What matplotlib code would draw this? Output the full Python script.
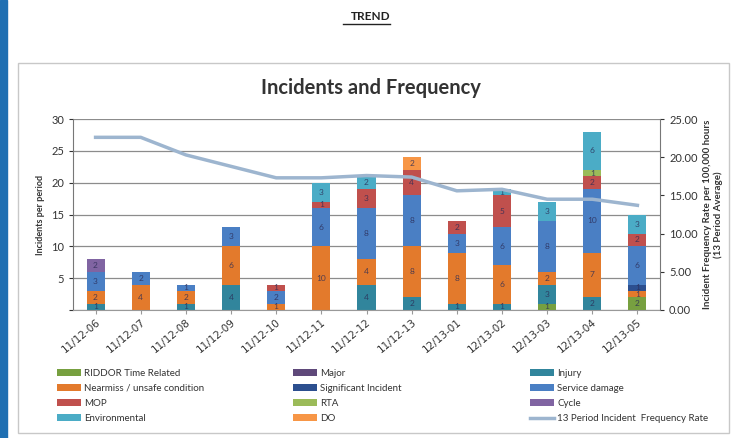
"""Incidents and Frequency - stacked bars with 13 period frequency line"""

import matplotlib.pyplot as plt
import numpy as np
from matplotlib.patches import Rectangle, Patch
from matplotlib.lines import Line2D

plt.rcParams["font.family"] = ["Lato", "DejaVu Sans"]

periods = ["11/12-06", "11/12-07", "11/12-08", "11/12-09", "11/12-10", "11/12-11",
           "11/12-12", "11/12-13", "12/13-01", "12/13-02", "12/13-03", "12/13-04",
           "12/13-05"]

riddor = [0, 0, 0, 0, 0, 0, 0, 0, 0, 0, 1, 0, 2]
major = [0, 0, 0, 0, 0, 0, 0, 0, 0, 0, 0, 0, 0]
injury = [1, 0, 1, 4, 0, 0, 4, 2, 1, 1, 3, 2, 0]
nearmiss = [2, 4, 2, 6, 1, 10, 4, 8, 8, 6, 2, 7, 1]
significant = [0, 0, 0, 0, 0, 0, 0, 0, 0, 0, 0, 0, 1]
service_damage = [3, 2, 1, 3, 2, 6, 8, 8, 3, 6, 8, 10, 6]
mop = [0, 0, 0, 0, 1, 1, 3, 4, 2, 5, 0, 2, 2]
rta = [0, 0, 0, 0, 0, 0, 0, 0, 0, 0, 0, 1, 0]
cycle = [2, 0, 0, 0, 0, 0, 0, 0, 0, 0, 0, 0, 0]
environmental = [0, 0, 0, 0, 0, 3, 2, 0, 0, 1, 3, 6, 3]
do = [0, 0, 0, 0, 0, 0, 0, 2, 0, 0, 0, 0, 0]

freq_rate = [22.6, 22.6, 20.3, 18.8, 17.3, 17.3, 17.6, 17.4, 15.6, 15.8, 14.5, 14.5, 13.7]

series = [
    ("RIDDOR Time Related", riddor, "#77a040"),
    ("Major", major, "#5f497a"),
    ("Injury", injury, "#31859c"),
    ("Nearmiss / unsafe condition", nearmiss, "#e37a2c"),
    ("Significant Incident", significant, "#2c4f8f"),
    ("Service damage", service_damage, "#4a7fc4"),
    ("MOP", mop, "#c0504d"),
    ("RTA", rta, "#9bbb59"),
    ("Cycle", cycle, "#8064a2"),
    ("Environmental", environmental, "#4bacc6"),
    ("DO", do, "#f79646"),
]
line_label = "13 Period Incident  Frequency Rate"
line_color = "#9db5cf"

fig = plt.figure(figsize=(7.42, 4.38), dpi=100)

# page decorations
fig.patches.append(Rectangle((0, 0), 7 / 742, 1, transform=fig.transFigure,
                             color="#1f6fb2", zorder=-2))
fig.patches.append(Rectangle((18 / 742, 5 / 438), 711 / 742, 370 / 438,
                             transform=fig.transFigure, facecolor="white",
                             edgecolor="#c8c8c8", lw=1, zorder=-2))
fig.text(0.5, 1 - 17 / 438, "TREND", ha="center", va="center", fontsize=8.5,
         fontweight="bold", color="#222222")
fig.add_artist(Line2D([343 / 742, 390 / 742], [1 - 24 / 438] * 2,
                      transform=fig.transFigure, color="#222222", lw=1))

ax = fig.add_axes([73 / 742, 1 - 310 / 438, 587 / 742, 191 / 438])
ax.patch.set_alpha(0)
x = np.arange(len(periods))
bottom = np.zeros(len(periods))
for name, vals, color in series:
    vals = np.array(vals, dtype=float)
    ax.bar(x, vals, 0.4, bottom=bottom, color=color, label=name, zorder=2)
    for xi, v, b in zip(x, vals, bottom):
        if v > 0:
            ax.text(xi, b + v / 2, f"{int(v)}", ha="center", va="center",
                    fontsize=6, color="#2b2b55", alpha=0.8, zorder=3)
    bottom += vals

ax.set_xlim(-0.5, len(periods) - 0.5)
ax.set_ylim(0, 30)
ax.set_yticks(np.arange(0, 31, 5))
ax.set_yticklabels([""] + [str(v) for v in range(5, 31, 5)])
ax.yaxis.grid(True, color="#8c8c8c", lw=0.9, zorder=0)
ax.set_axisbelow(True)
ax.set_xticks(x)
ax.set_xticklabels(periods, rotation=40, ha="right", rotation_mode="anchor",
                   fontsize=7.5, color="#333333", family="DejaVu Sans")
ax.tick_params(axis="y", labelsize=8, colors="#333333", length=3)
ax.tick_params(axis="x", length=3, color="#999999", pad=2)
for s in ["top", "right"]:
    ax.spines[s].set_visible(False)
ax.spines["left"].set_color("#777777")
ax.spines["bottom"].set_color("#999999")
ax.set_ylabel("Incidents per period", fontsize=6.5, fontweight="bold", color="#333333")

ax2 = ax.twinx()
ax2.plot(x, freq_rate, color=line_color, lw=2.5, zorder=5)
ax2.set_ylim(0, 25)
ax2.set_yticks(np.arange(0, 26, 5))
ax2.set_yticklabels([f"{v:.2f}" for v in np.arange(0, 26, 5)])
ax2.tick_params(axis="y", labelsize=8, colors="#333333", length=3)
for s in ["top", "left", "bottom"]:
    ax2.spines[s].set_visible(False)
ax2.spines["right"].set_color("#777777")
ax2.set_ylabel("Incident Frequency Rate per 100,000 hours\n(13 Period Average)",
               fontsize=7, fontweight="bold", color="#333333", linespacing=1.1)

fig.text(0.5, 1 - 88 / 438, "Incidents and Frequency", ha="center", va="center",
         fontsize=14.5, fontweight="bold", color="#333333")

# legend in three columns, row-major order
handles = [Patch(facecolor=c, label=n) for n, _, c in series]
handles.append(Line2D([], [], color=line_color, lw=2.5, label=line_label))
col_x = [53 / 742, 289 / 742, 526 / 742]
for i, cx in enumerate(col_x):
    leg = fig.legend(handles=handles[i::3], loc="upper left",
                     bbox_to_anchor=(cx, 1 - 365 / 438), frameon=False,
                     fontsize=7, handlelength=2.5, handleheight=0.6,
                     labelspacing=0.62, handletextpad=0.3, borderaxespad=0)
    for t in leg.get_texts():
        t.set_color("#333333")

fig.savefig("out.png", dpi=100)
